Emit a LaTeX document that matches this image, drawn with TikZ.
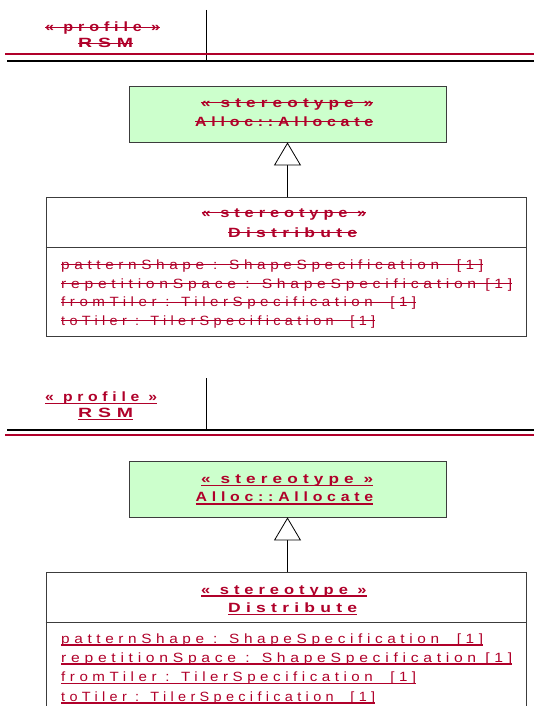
\documentclass[tikz,border=0pt]{standalone}
\usepackage{fontspec}
\usepackage{graphicx}
\setmainfont{Liberation Sans}
\newfontfamily\regf{Liberation Sans}[LetterSpace=30]
\newfontfamily\boldf{Liberation Sans}[LetterSpace=30]
\usetikzlibrary{arrows.meta}
\definecolor{umlred}{RGB}{176,0,42}
\definecolor{umlgreen}{RGB}{204,255,204}
\definecolor{umlgray}{RGB}{60,60,60}
\newsavebox\txtbox
% #1 = width of the printed line (px = pt), #2 = text
\newcommand\strk[2]{\sbox\txtbox{#2}\pgfmathsetmacro\xr{#1/\the\wd\txtbox}\rlap{\scalebox{\xr}[1]{\usebox\txtbox}}\rule[3.9pt]{#1pt}{0.9pt}}
\newcommand\undl[2]{\sbox\txtbox{#2}\pgfmathsetmacro\xr{#1/\the\wd\txtbox}\rlap{\scalebox{\xr}[1]{\usebox\txtbox}}\rule[-2.8pt]{#1pt}{1.6pt}}
\tikzset{
  lbl/.style={inner sep=0pt, text=umlred, anchor=base west, font=\boldf\bfseries\fontsize{13.4}{15}\selectfont},
  attr/.style={inner sep=0pt, text=umlred, anchor=base west, font=\regf\fontsize{13.4}{15}\selectfont},
  classbox/.style={draw=umlgray, line width=0.8pt, inner sep=0pt},
  gen/.style={draw=black, line width=0.8pt, -{Triangle[open, fill=white, length=23pt, width=27pt]}},
  pkgline/.style={draw=black, line width=0.8pt},
  redrule/.style={draw=umlred, line width=2pt},
  blackrule/.style={draw=black, line width=1.5pt}
}
\begin{document}
\begin{tikzpicture}[x=1pt, y=-1pt]
\useasboundingbox (0,0) rectangle (534,706);
\fill[white] (0,0) rectangle (534,706);

% ---------- top half (struck out) ----------
\coordinate (vtA) at (206,10);
\coordinate (vbA) at (206,61);
\draw[pkgline] (vtA) -- (vbA);
\draw[redrule] (5,54.5) -- (534,54.5);
\draw[blackrule] (7,61) -- (534,61);
\node[lbl] (profA) at (45,31.5) {\strk{115}{« profile »}};
\node[lbl] (rsmA) at (78,47.5) {\strk{55}{RSM}};

\node[classbox, fill=umlgreen, minimum width=317pt, minimum height=56pt] (allocA) at (287.5,114) {};
\node[lbl] (stA1) at (201,107) {\strk{172}{« stereotype »}};
\node[lbl] (alA) at (195,126) {\strk{178}{Alloc::Allocate}};

\node[classbox, minimum width=480pt, minimum height=139pt] (distA) at (286,266.5) {};
\draw[classbox] (distA.west |- 0,247) -- (distA.east |- 0,247);
\draw[gen] (allocA.south |- distA.north) -- (allocA.south);
\node[lbl] (stA2) at (201.5,217) {\strk{164.5}{« stereotype »}};
\node[lbl] (diA) at (228,237) {\strk{129}{Distribute}};
\node[attr] (a1A) at (61,269) {\strk{422}{patternShape : ShapeSpecification~ [1]}};
\node[attr] (a2A) at (61,288) {\strk{451}{repetitionSpace : ShapeSpecification [1]}};
\node[attr] (a3A) at (61,306.5) {\strk{355}{fromTiler : TilerSpecification~ [1]}};
\node[attr] (a4A) at (61,325) {\strk{314}{toTiler : TilerSpecification~ [1]}};

% ---------- bottom half (underlined) ----------
\coordinate (vtB) at (206,378);
\coordinate (vbB) at (206,430);
\draw[pkgline] (vtB) -- (vbB);
\draw[blackrule] (7,430) -- (534,430);
\draw[redrule] (5,435) -- (534,435);
\node[lbl] (profB) at (45,401.5) {\undl{112}{« profile »}};
\node[lbl] (rsmB) at (78,417.5) {\undl{55}{RSM}};

\node[classbox, fill=umlgreen, minimum width=317pt, minimum height=56pt] (allocB) at (287.5,489) {};
\node[lbl] (stB1) at (201,483.5) {\undl{172}{« stereotype »}};
\node[lbl] (alB) at (195.5,501.7) {\undl{177.5}{Alloc::Allocate}};

\node[classbox, minimum width=480pt, minimum height=139pt] (distB) at (286,641.5) {};
\draw[classbox] (distB.west |- 0,622) -- (distB.east |- 0,622);
\draw[gen] (allocB.south |- distB.north) -- (allocB.south);
\node[lbl] (stB2) at (201,594) {\undl{165.5}{« stereotype »}};
\node[lbl] (diB) at (228,612.5) {\undl{129}{Distribute}};
\node[attr] (a1B) at (61,643) {\undl{422}{patternShape : ShapeSpecification~ [1]}};
\node[attr] (a2B) at (61,662) {\undl{451}{repetitionSpace : ShapeSpecification [1]}};
\node[attr] (a3B) at (61,681.5) {\undl{355}{fromTiler : TilerSpecification~ [1]}};
\node[attr] (a4B) at (61,701) {\undl{314}{toTiler : TilerSpecification~ [1]}};
\end{tikzpicture}
\end{document}
